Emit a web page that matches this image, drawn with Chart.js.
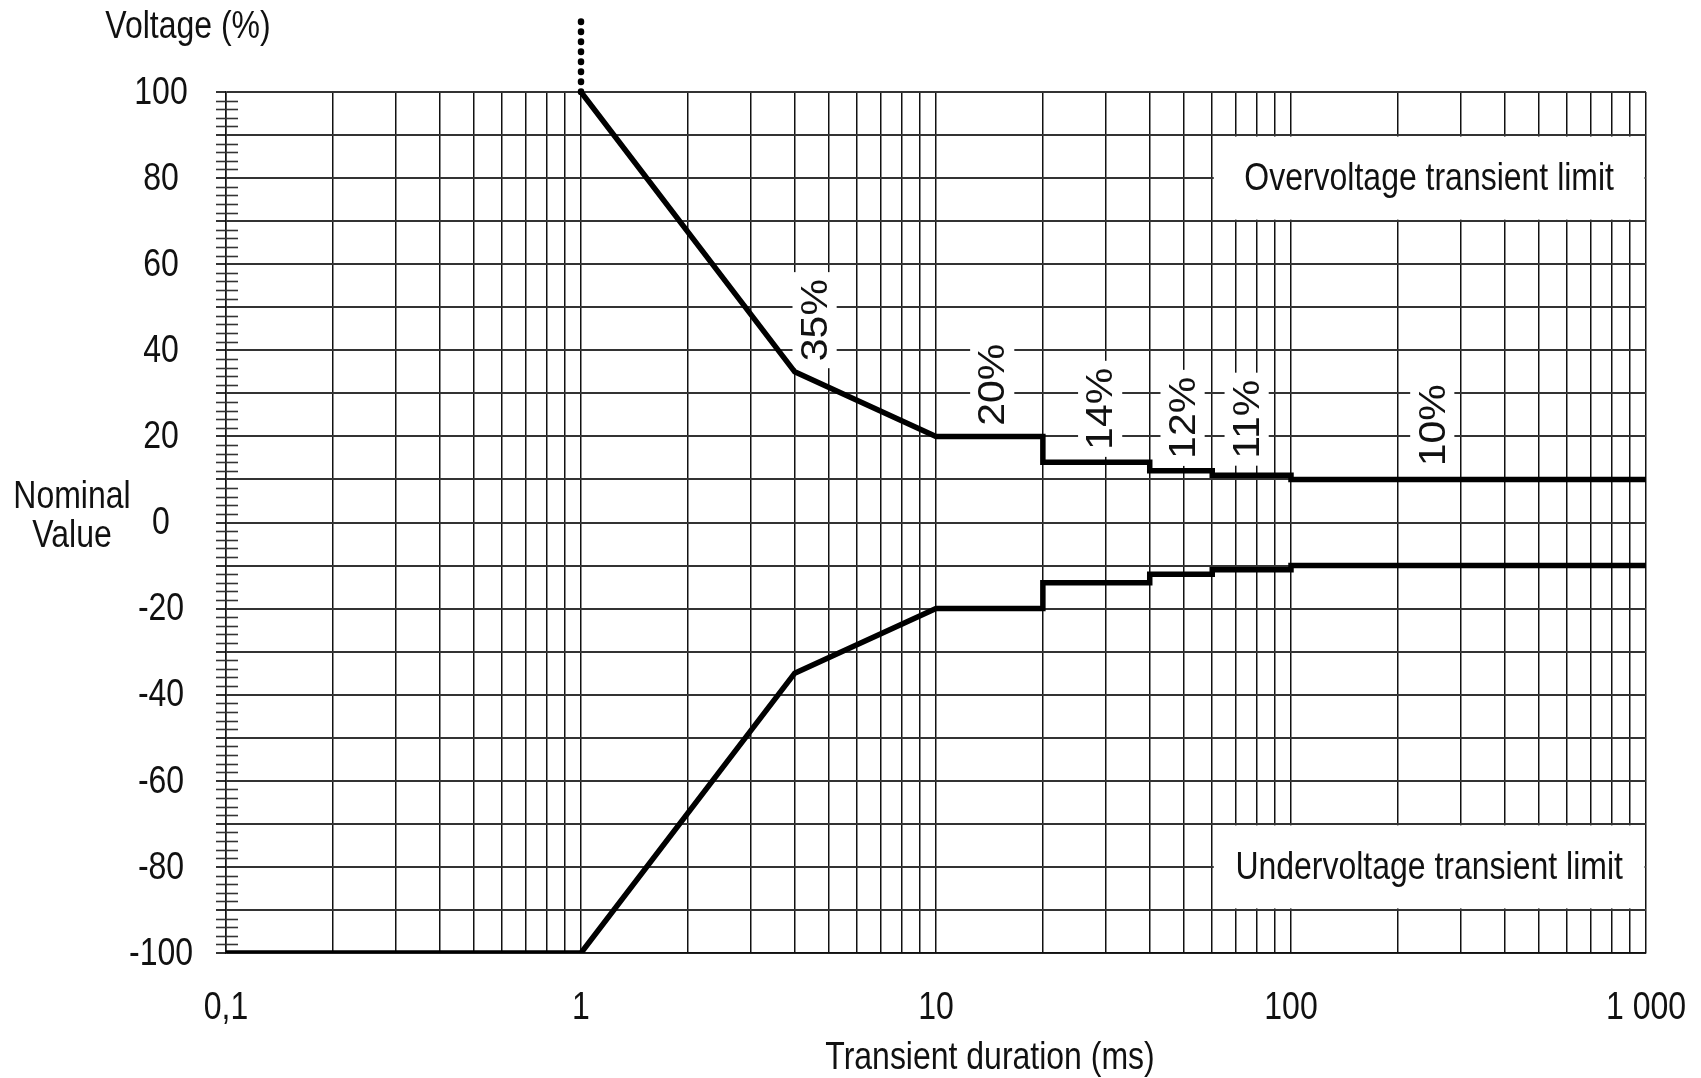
<!DOCTYPE html>
<html>
<head>
<meta charset="utf-8">
<script src="https://cdn.jsdelivr.net/npm/chart.js@4.4.1/dist/chart.umd.min.js"></script>
<style>
  html, body { margin: 0; padding: 0; background: #fff; }
  #wrap { width: 1701px; height: 1078px; }
</style>
</head>
<body>
<div id="wrap"><canvas id="chartTransient"></canvas></div>
<script>
// transient duration (ms) vs voltage (% of nominal)
const upperX = [1, 4, 10, 20, 20, 40, 40, 60, 60, 100, 100, 1000];
const upperY = [100, 35, 20, 20, 14, 14, 12, 12, 11, 11, 10, 10];
const lowerX = [0.1, 1, 4, 10, 20, 20, 40, 40, 60, 60, 100, 100, 1000];
const lowerY = [-100, -100, -35, -20, -20, -14, -14, -12, -12, -11, -11, -10, -10];
const startX = [1, 1];
const startY = [100, 117.5];

const xGridValues = [0.1, 0.2, 0.3, 0.4, 0.5, 0.6, 0.7, 0.8, 0.9,
                     1, 2, 3, 4, 5, 6, 7, 8, 9,
                     10, 20, 30, 40, 50, 60, 70, 80, 90,
                     100, 200, 300, 400, 500, 600, 700, 800, 900, 1000];
const xTickValues = [0.1, 1, 10, 100, 1000];
const xTickLabels = ['0,1', '1', '10', '100', '1 000'];
const yTickValues = [-100, -80, -60, -40, -20, 0, 20, 40, 60, 80, 100];

const stepLabels = ['35%', '20%', '14%', '12%', '11%', '10%'];
const stepLabelX = [4.55, 14.4, 29, 49.5, 75, 250];
const stepLabelY = [47, 32, 26.4, 24.3, 24, 22.6];

const limitTexts = ['Overvoltage transient limit', 'Undervoltage transient limit'];
const limitTop = [90, -70];
const limitBottom = [70, -90];
const limitFrom = 60, limitTo = 1000;

const FONT = "'Liberation Sans', Arial, sans-serif";
const INK = '#111';
const SQUEEZE = 0.82; // the original figure is squashed horizontally

const pts = (xs, ys) => xs.map((v, i) => ({ x: v, y: ys[i] }));

// narrow-looking text: normal font drawn with a horizontal squeeze
function text(ctx, str, x, y, size) {
  ctx.save();
  ctx.translate(x, y);
  ctx.scale(SQUEEZE, 1);
  ctx.font = size + 'px ' + FONT;
  ctx.textAlign = 'center';
  ctx.textBaseline = 'middle';
  ctx.fillStyle = INK;
  ctx.fillText(str, 0, 0);
  ctx.restore();
}

const extras = {
  id: 'extras',
  beforeDatasetsDraw(chart) {
    const { ctx, scales: { x, y } } = chart;
    ctx.save();
    // minor ticks on the voltage axis, every 2 %
    ctx.strokeStyle = '#333';
    ctx.lineWidth = 1.6;
    const ax = x.getPixelForValue(0.1);
    for (let v = -98; v < 100; v += 2) {
      if (v % 10 === 0) continue;
      const py = Math.round(y.getPixelForValue(v)) + 0.5;
      ctx.beginPath();
      ctx.moveTo(ax - 10, py);
      ctx.lineTo(ax + 12, py);
      ctx.stroke();
    }
    // caption boxes
    limitTexts.forEach((txt, i) => {
      const l = x.getPixelForValue(limitFrom) + 1.5, r = x.getPixelForValue(limitTo) - 1.5;
      const t = y.getPixelForValue(limitTop[i]) + 1.5, b = y.getPixelForValue(limitBottom[i]) - 1.5;
      ctx.fillStyle = '#fff';
      ctx.fillRect(l, t, r - l, b - t);
      text(ctx, txt, (l + r) / 2, (t + b) / 2 + 1, 39);
    });
    // vertical percentage labels
    stepLabels.forEach((txt, i) => {
      const px = x.getPixelForValue(stepLabelX[i]), py = y.getPixelForValue(stepLabelY[i]);
      ctx.save();
      ctx.translate(px, py);
      ctx.scale(0.92, 1);
      ctx.rotate(-Math.PI / 2);
      ctx.font = '41px ' + FONT;
      const w = ctx.measureText(txt).width;
      ctx.fillStyle = '#fff';
      ctx.fillRect(-w / 2 - 7, -24, w + 14, 48);
      ctx.fillStyle = INK;
      ctx.textAlign = 'center';
      ctx.textBaseline = 'middle';
      ctx.fillText(txt, 0, 2);
      ctx.restore();
    });
    ctx.restore();
  },
  afterDraw(chart) {
    const { ctx, scales: { x, y } } = chart;
    yTickValues.forEach(v => text(ctx, String(v), 161, y.getPixelForValue(v) + 1, 39));
    xTickValues.forEach((v, i) => text(ctx, xTickLabels[i], x.getPixelForValue(v), 1008, 39));
    text(ctx, 'Voltage (%)', 188, 27, 39);
    text(ctx, 'Nominal', 72, 497, 39);
    text(ctx, 'Value', 72, 536, 39);
    text(ctx, 'Transient duration (ms)', 990, 1058, 39);
  }
};

const ctx = document.getElementById('chartTransient').getContext('2d');
const chart = new Chart(ctx, {
  type: 'line',
  data: {
    datasets: [
      { data: pts(upperX, upperY), borderColor: '#000', borderWidth: 5.5 },
      { data: pts(lowerX, lowerY), borderColor: '#000', borderWidth: 5.5 },
      { data: pts(startX, startY), borderColor: '#000', borderWidth: 6.5,
        borderDash: [0.5, 9.5], borderCapStyle: 'round', clip: false }
    ]
  },
  options: {
    responsive: true,
    maintainAspectRatio: false,
    animation: false,
    elements: { point: { radius: 0 }, line: { tension: 0, fill: false } },
    layout: { padding: { top: 92, right: 55, left: 0, bottom: 0 } },
    plugins: { legend: { display: false }, tooltip: { enabled: false } },
    scales: {
      x: {
        type: 'logarithmic',
        min: 0.1,
        max: 1000,
        afterBuildTicks: s => { s.ticks = xGridValues.map(v => ({ value: v })); },
        afterFit: s => { s.height = 125; },
        grid: { color: '#111', lineWidth: 1.5, drawTicks: false },
        border: { color: INK, width: 1.5 },
        ticks: { display: false, autoSkip: false }
      },
      y: {
        type: 'linear',
        min: -100,
        max: 100,
        afterFit: s => { s.width = 226; },
        grid: { color: '#333', lineWidth: 2, tickLength: 10 },
        border: { color: INK, width: 1.5 },
        ticks: { display: false, stepSize: 10, autoSkip: false }
      }
    }
  },
  plugins: [extras]
});
</script>
</body>
</html>
